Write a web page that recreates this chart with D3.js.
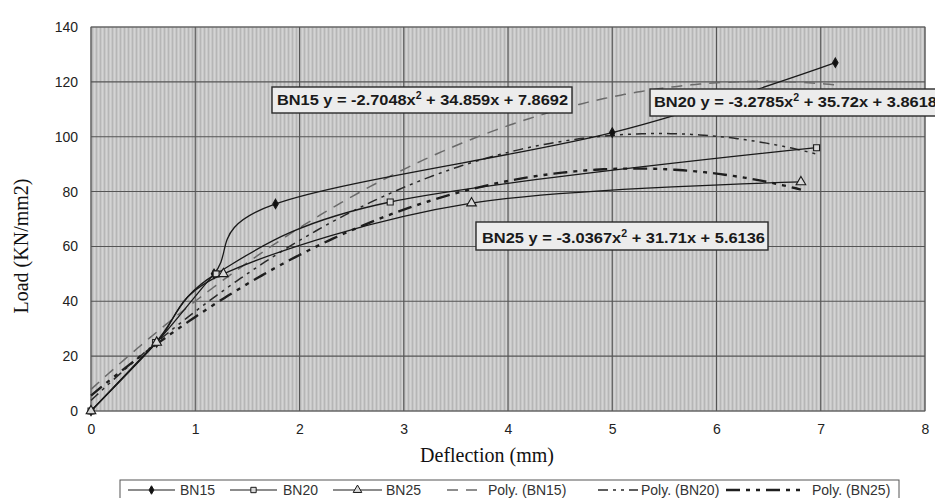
<!DOCTYPE html>
<html>
<head>
<meta charset="utf-8">
<script src="https://cdn.jsdelivr.net/npm/d3@7"></script>
<style>
  html, body { margin: 0; padding: 0; background: #ffffff; }
  svg { display: block; }
</style>
</head>
<body>
<svg id="chart" width="935" height="498"></svg>
<script>
// Load–deflection test results for three beams, with quadratic trend lines
const xTicks = [0, 1, 2, 3, 4, 5, 6, 7, 8];
const yTicks = [0, 20, 40, 60, 80, 100, 120, 140];

const seriesNames = ["BN15", "BN20", "BN25"];
const bn15Deflection = [0, 0.63, 1.18, 1.77, 5.0, 7.14];
const bn15Load       = [0, 25, 50, 75.5, 101.5, 127];
const bn20Deflection = [0, 0.62, 1.2, 2.87, 6.96];
const bn20Load       = [0, 25, 50, 76.2, 96];
const bn25Deflection = [0, 0.63, 1.27, 3.65, 6.81];
const bn25Load       = [0, 25, 50, 75.8, 83.5];

// Second-order polynomial trend coefficients: y = a x^2 + b x + c
const polyA = [-2.7048, -3.2785, -3.0367];
const polyB = [34.859, 35.72, 31.71];
const polyC = [7.8692, 3.8618, 5.6136];

const legendLabels = ["BN15", "BN20", "BN25", "Poly. (BN15)", "Poly. (BN20)", "Poly. (BN25)"];

const svg = d3.select("#chart");
const plot = { left: 91, right: 925, top: 27, bottom: 411 };

const x = d3.scaleLinear().domain([0, 8]).range([plot.left, plot.right]);
const y = d3.scaleLinear().domain([0, 140]).range([plot.bottom, plot.top]);

// Plot-area fill with a fine vertical hatch
const defs = svg.append("defs");
const pat = defs.append("pattern").attr("id", "hatch")
  .attr("patternUnits", "userSpaceOnUse").attr("width", 4).attr("height", 8);
pat.append("rect").attr("width", 4).attr("height", 8).attr("fill", "#c8c8c8");
pat.append("rect").attr("x", 0).attr("width", 1).attr("height", 8).attr("fill", "#b6b6b6");
pat.append("rect").attr("x", 2).attr("width", 1).attr("height", 8).attr("fill", "#d4d4d4");

svg.append("rect")
  .attr("x", plot.left).attr("y", plot.top)
  .attr("width", plot.right - plot.left).attr("height", plot.bottom - plot.top)
  .attr("fill", "url(#hatch)").attr("stroke", "#8a8a8a").attr("stroke-width", 1);

// Major gridlines
svg.append("g").selectAll("line").data(yTicks).join("line")
  .attr("x1", plot.left).attr("x2", plot.right)
  .attr("y1", d => y(d)).attr("y2", d => y(d))
  .attr("stroke", "#555").attr("stroke-width", 1.1);
svg.append("g").selectAll("line").data(xTicks).join("line")
  .attr("x1", d => x(d)).attr("x2", d => x(d))
  .attr("y1", plot.top).attr("y2", plot.bottom)
  .attr("stroke", "#555").attr("stroke-width", 1.1);

// Axes (labels only)
const yAxis = d3.axisLeft(y).tickValues(yTicks).tickSize(0).tickPadding(13);
const xAxis = d3.axisBottom(x).tickValues(xTicks).tickSize(0).tickPadding(13);
const gy = svg.append("g").attr("transform", `translate(${plot.left},0)`).call(yAxis);
const gx = svg.append("g").attr("transform", `translate(0,${plot.bottom})`).call(xAxis);
[gx, gy].forEach(g => {
  g.select(".domain").remove();
  g.selectAll("text").attr("font-family", "'Liberation Sans', Arial, sans-serif")
    .attr("font-size", 14).attr("fill", "#222");
});

svg.append("text")
  .attr("x", 487).attr("y", 462).attr("text-anchor", "middle")
  .attr("font-family", "'Liberation Serif', 'Times New Roman', serif")
  .attr("font-size", 20).attr("fill", "#111")
  .text("Deflection (mm)");
svg.append("text")
  .attr("transform", "translate(28,246) rotate(-90)").attr("text-anchor", "middle")
  .attr("font-family", "'Liberation Serif', 'Times New Roman', serif")
  .attr("font-size", 20).attr("fill", "#111")
  .text("Load (KN/mm2)");

// Trend lines
const xEnds = [bn15Deflection, bn20Deflection, bn25Deflection].map(a => a[a.length - 1]);
const polyStyles = [
  { stroke: "#6a6a6a", width: 1.5, dash: "11,8" },
  { stroke: "#2a2a2a", width: 1.5, dash: "10,5,3,5,3,5" },
  { stroke: "#1e1e1e", width: 2.4, dash: "14,6,4,6,4,6" }
];
const trendLine = d3.line().x(d => x(d[0])).y(d => y(d[1]));
seriesNames.forEach((name, i) => {
  const xs = d3.range(0, xEnds[i], 0.04).concat([xEnds[i]]);
  const pts = xs.map(v => [v, polyA[i] * v * v + polyB[i] * v + polyC[i]]);
  svg.append("path").datum(pts)
    .attr("d", trendLine).attr("fill", "none")
    .attr("stroke", polyStyles[i].stroke).attr("stroke-width", polyStyles[i].width)
    .attr("stroke-dasharray", polyStyles[i].dash);
});

// Measured curves
const measured = [
  { xs: bn15Deflection, ys: bn15Load, symbol: d3.symbolDiamond, size: 26, fill: "#111" },
  { xs: bn20Deflection, ys: bn20Load, symbol: d3.symbolSquare, size: 36, fill: "#d8d8d8" },
  { xs: bn25Deflection, ys: bn25Load, symbol: d3.symbolTriangle, size: 40, fill: "#d8d8d8" }
];
const smooth = d3.line().x(d => x(d[0])).y(d => y(d[1])).curve(d3.curveCardinal.tension(0));
measured.forEach(s => {
  const pts = s.xs.map((v, k) => [v, s.ys[k]]);
  svg.append("path").datum(pts)
    .attr("d", smooth).attr("fill", "none")
    .attr("stroke", "#1a1a1a").attr("stroke-width", 1.3);
  svg.append("g").selectAll("path").data(pts).join("path")
    .attr("transform", d => `translate(${x(d[0])},${y(d[1])})`)
    .attr("d", d3.symbol().type(s.symbol).size(s.size))
    .attr("fill", s.fill).attr("stroke", "#1a1a1a").attr("stroke-width", 1.1);
});

// Trend equation labels
const eqBoxes = [
  { i: 0, x: 272, y: 87, w: 300, h: 26, tx: 277, ty: 105, tw: 291 },
  { i: 1, x: 650, y: 89, w: 300, h: 27, tx: 654, ty: 107, tw: 283 },
  { i: 2, x: 476, y: 222, w: 292, h: 28, tx: 482, ty: 243, tw: 283 }
];
eqBoxes.forEach(b => {
  const i = b.i;
  svg.append("rect").attr("x", b.x).attr("y", b.y).attr("width", b.w).attr("height", b.h)
    .attr("fill", "#ececec").attr("stroke", "#2a2a2a").attr("stroke-width", 1.4);
  const t = svg.append("text").attr("x", b.tx).attr("y", b.ty)
    .attr("font-family", "'Liberation Sans', Arial, sans-serif")
    .attr("font-weight", "bold").attr("font-size", 15.5).attr("fill", "#1a1a1a")
    .attr("textLength", b.tw).attr("lengthAdjust", "spacingAndGlyphs");
  t.append("tspan").text(`${seriesNames[i]} y = ${polyA[i].toFixed(4)}x`);
  t.append("tspan").attr("dy", -6).attr("font-size", 10).text("2");
  t.append("tspan").attr("dy", 6).text(` + ${polyB[i]}x + ${polyC[i].toFixed(4)}`);
});

// Legend
const legend = svg.append("g");
legend.append("rect").attr("x", 120).attr("y", 480).attr("width", 779).attr("height", 30)
  .attr("fill", "#ffffff").attr("stroke", "#555").attr("stroke-width", 1);
const legendSlots = [
  { s0: 128, s1: 175, t: 180 },
  { s0: 230, s1: 277, t: 283 },
  { s0: 333, s1: 382, t: 386 },
  { s0: 447, s1: 481, t: 488 },
  { s0: 598, s1: 638, t: 641 },
  { s0: 726, s1: 806, t: 812 }
];
const ly = 490;
legendLabels.forEach((lab, k) => {
  const slot = legendSlots[k];
  const line = legend.append("line").attr("x1", slot.s0).attr("x2", slot.s1)
    .attr("y1", ly).attr("y2", ly);
  if (k < 3) {
    line.attr("stroke", "#1a1a1a").attr("stroke-width", 1.2);
    const s = measured[k];
    legend.append("path")
      .attr("transform", `translate(${(slot.s0 + slot.s1) / 2},${ly})`)
      .attr("d", d3.symbol().type(s.symbol).size(s.size * 0.8))
      .attr("fill", s.fill).attr("stroke", "#1a1a1a").attr("stroke-width", 1);
  } else {
    const st = polyStyles[k - 3];
    line.attr("stroke", st.stroke).attr("stroke-width", st.width)
      .attr("stroke-dasharray", st.dash);
  }
  legend.append("text").attr("x", slot.t).attr("y", ly + 5)
    .attr("font-family", "'Liberation Sans', Arial, sans-serif")
    .attr("font-size", 14).attr("fill", "#333").text(lab);
});
</script>
</body>
</html>
